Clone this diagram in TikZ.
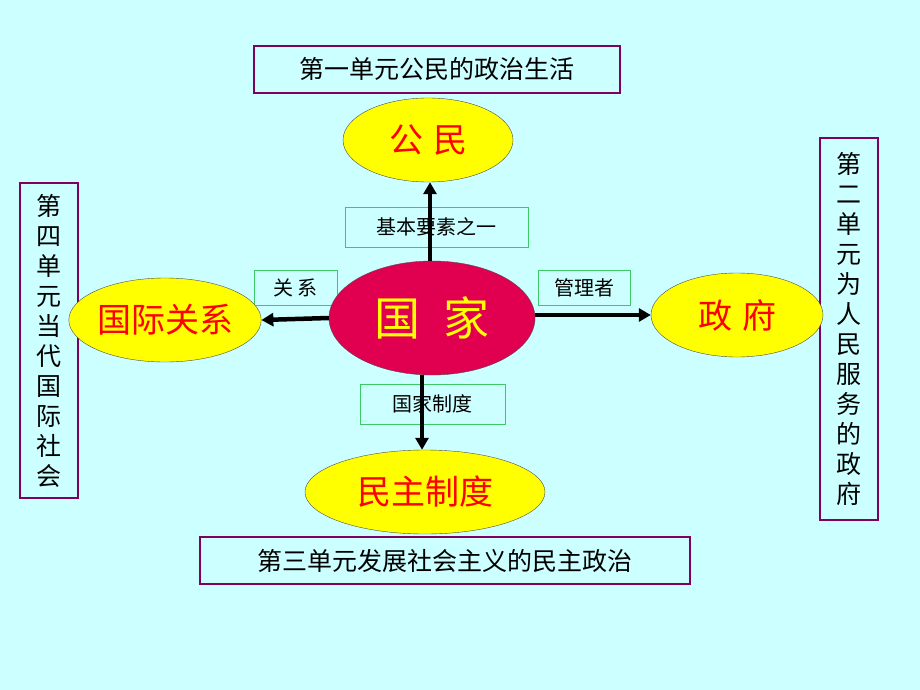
\documentclass[tikz,border=0pt]{standalone}
\usepackage{fontspec}
\newfontfamily\cjk{Noto Sans CJK SC}
\usetikzlibrary{positioning,shapes.geometric,arrows.meta}
\definecolor{bgcyan}{RGB}{204,255,255}
\definecolor{boxpurple}{RGB}{128,0,96}
\definecolor{labgreen}{RGB}{60,200,100}
\definecolor{ellyellow}{RGB}{255,255,0}
\definecolor{hubred}{RGB}{225,0,80}
\definecolor{txtred}{RGB}{255,0,0}
\tikzset{
  unit/.style={draw=boxpurple,line width=1.2pt,inner sep=0pt,font=\cjk\fontsize{25}{30}\selectfont},
  lab/.style={draw=labgreen,line width=0.8pt,inner sep=0pt,font=\cjk\fontsize{20}{24}\selectfont},
  part/.style={ellipse,draw=black!70,fill=ellyellow,inner sep=0pt,text=txtred,font=\cjk\fontsize{34}{38}\selectfont},
  link/.style={line width=4.5pt,-{Triangle[length=12pt,width=13pt]}}
}
\begin{document}
\begin{tikzpicture}[x=1pt,y=-1pt]
\fill[bgcyan] (0,0) rectangle (920,690);
\useasboundingbox (0,0) rectangle (920,690);
% unit boxes
\node[unit,minimum width=366,minimum height=47] (u1) at (437,69.5) {第一单元公民的政治生活};
\node[unit,minimum width=490,minimum height=47] (u3) at (445,560.5) {第三单元发展社会主义的民主政治};
\node[unit,minimum width=58,minimum height=315,align=center,font=\cjk\fontsize{25}{30}\selectfont] (u4) at (49,340.5)
  {第\\四\\单\\元\\当\\代\\国\\际\\社\\会};
\node[unit,minimum width=58,minimum height=382,align=center,font=\cjk\fontsize{25}{30}\selectfont] (u2) at (849,329)
  {第\\二\\单\\元\\为\\人\\民\\服\\务\\的\\政\\府};
% labels
\node[lab,minimum width=183,minimum height=40] (l1) at (436.5,227) {基本要素之一};
\node[lab,minimum width=83,minimum height=35] (l2) at (295.5,287.5) {关 系};
\node[lab,minimum width=92,minimum height=35] (l3) at (584,287.5) {管理者};
\node[lab,minimum width=145,minimum height=40] (l4) at (432.5,404) {国家制度};
% ellipses
\node[part,minimum width=170,minimum height=84] (gongmin) at (428,140) {公\hspace{10pt}民};
\node[part,minimum width=176,minimum height=84] (guoji) at (165,320) {国际关系};
\node[part,minimum width=172,minimum height=84] (zhengfu) at (737,315) {政\hspace{10pt}府};
\node[part,minimum width=240,minimum height=84] (minzhu) at (425,492) {民主制度};
\node[part,fill=hubred,text=ellyellow,minimum width=206,minimum height=114,font=\cjk\fontsize{46}{50}\selectfont] (guojia) at (432,318) {国\hspace{24pt}家};
% arrows
\draw[link] ([xshift=-2pt]guojia.north) -- ([xshift=2pt]gongmin.south);
\draw[link] ([xshift=-10pt]guojia.south) -- ([xshift=-3pt]minzhu.north);
\draw[link] (guojia.west) -- (guoji.east);
\draw[link] ([yshift=3pt]guojia.east) -- (zhengfu.west);
\end{tikzpicture}
\end{document}
